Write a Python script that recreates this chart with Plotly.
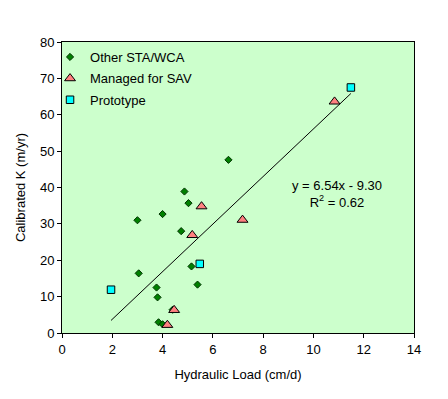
import plotly.graph_objects as go

# Data
other_x = [6.62, 4.87, 5.03, 4.00, 3.00, 4.74, 3.05, 5.15, 5.39, 3.76, 3.80, 4.40, 3.84, 4.00]
other_y = [47.6, 38.9, 35.7, 32.7, 31.0, 28.0, 16.4, 18.3, 13.3, 12.5, 9.8, 6.4, 2.95, 2.4]

sav_x = [10.84, 5.55, 7.18, 5.18, 4.46, 4.19]
sav_y = [63.6, 34.8, 31.1, 26.9, 6.3, 2.2]

proto_x = [1.95, 5.48, 11.49]
proto_y = [11.9, 19.0, 67.5]

slope = 6.54
intercept = -9.30
r2 = 0.62

all_x = other_x + sav_x + proto_x
trend_x = [min(all_x), max(all_x)]
trend_y = [slope * v + intercept for v in trend_x]

FONT = "Arial, Liberation Sans, sans-serif"

fig = go.Figure()
fig.add_trace(go.Scatter(
    x=trend_x, y=trend_y, mode="lines",
    line=dict(color="black", width=1), showlegend=False, hoverinfo="skip"))
fig.add_trace(go.Scatter(
    x=other_x, y=other_y, mode="markers", name="Other STA/WCA", legendgroup="a",
    marker=dict(symbol="diamond", size=5.5, color="#008000",
                line=dict(color="#003300", width=1))))
fig.add_trace(go.Scatter(
    x=sav_x, y=sav_y, mode="markers", name="Managed for SAV", legendgroup="b",
    marker=dict(symbol="triangle-up", size=9.5, color="#FF8080",
                line=dict(color="black", width=1))))
fig.add_trace(go.Scatter(
    x=proto_x, y=proto_y, mode="markers", name="Prototype", legendgroup="c",
    marker=dict(symbol="square", size=7.5, color="#00FFFF",
                line=dict(color="black", width=1))))

fig.add_annotation(
    x=10.93, y=38.1, xref="x", yref="y", showarrow=False,
    text=f"y = {slope:.2f}x - {abs(intercept):.2f}<br>R<sup>2</sup> = {r2:.2f}",
    font=dict(family=FONT, size=13, color="black"), align="center")

fig.update_layout(
    width=440, height=391,
    margin=dict(l=54, r=34, t=34, b=66),
    paper_bgcolor="white", plot_bgcolor="#CCFFCC",
    font=dict(family=FONT, size=13, color="black"),
    legend=dict(x=-0.034, y=1.0, xanchor="left", yanchor="top",
                bgcolor="rgba(0,0,0,0)", font=dict(size=13),
                itemwidth=30, tracegroupgap=1.5),
    xaxis=dict(range=[0, 14], dtick=2, showgrid=False, zeroline=False,
               showline=True, linecolor="black", linewidth=1, mirror=True,
               ticks="outside", ticklen=4, tickcolor="black", automargin=False,
               title=dict(text="Hydraulic Load (cm/d)", standoff=14,
                          font=dict(size=13))),
    yaxis=dict(range=[0, 80], dtick=10, showgrid=False, zeroline=False,
               showline=True, linecolor="black", linewidth=1, mirror=True,
               ticks="outside", ticklen=4, tickcolor="black", automargin=False,
               title=dict(text="Calibrated K (m/yr)", standoff=11,
                          font=dict(size=13))),
)

fig.write_html("out.html")
